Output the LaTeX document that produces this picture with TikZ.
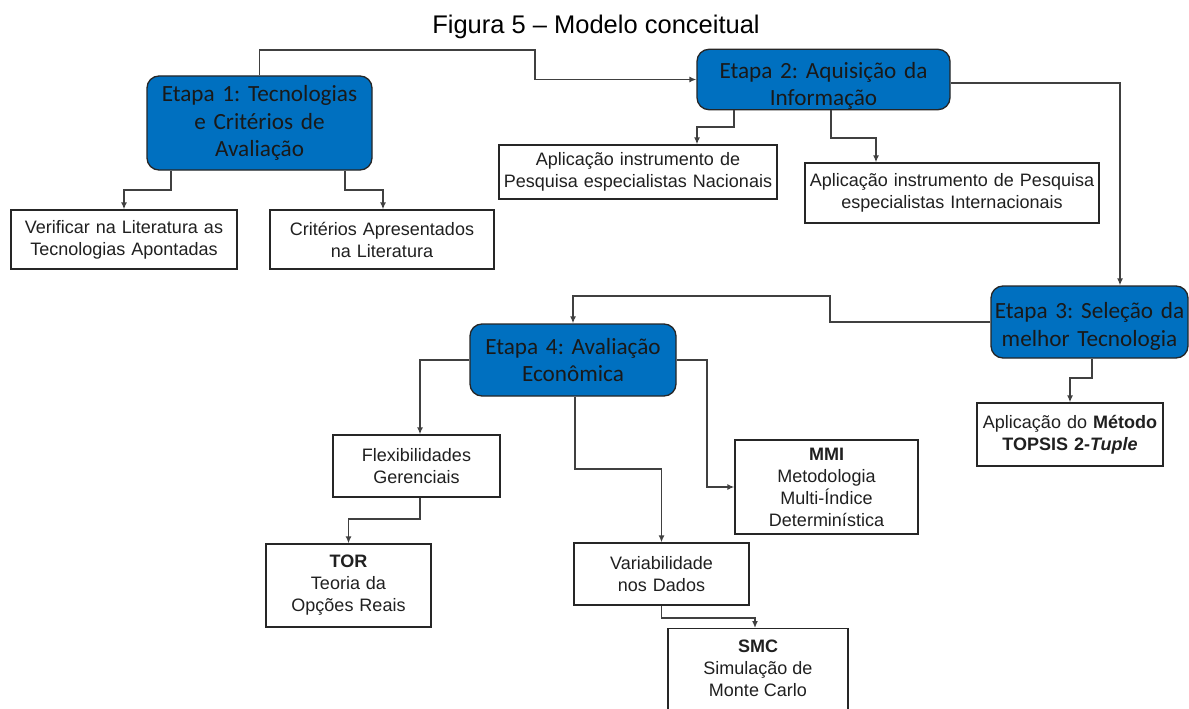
\documentclass[tikz,border=0pt]{standalone}
\usepackage{fontspec}
\setmainfont{Liberation Sans}
\newfontfamily\calfont{Carlito}
\usetikzlibrary{arrows.meta}
\frenchspacing
\definecolor{etblue}{HTML}{0070C0}
\definecolor{txt}{HTML}{202020}
\definecolor{lin}{HTML}{404040}
\tikzset{
  wbox/.style={draw=black!85, line width=1.3pt, fill=white, inner sep=0pt, align=center,
    text=txt, font=\fontsize{18}{22}\selectfont},
  ebox/.style={draw=black!85, line width=1.3pt, fill=etblue, rounded corners=12pt, inner sep=0pt,
    align=center, text=black!90, font=\calfont\fontsize{23.2}{27.5}\selectfont},
  conn/.style={draw=lin, line width=1.4pt, -{Latex[length=7pt,width=6pt]}},
}
\begin{document}
\begin{tikzpicture}[x=1pt,y=-1pt]
\useasboundingbox (0,0) rectangle (1189,709);
\clip (0,0) rectangle (1189,709);
\fill[white] (0,0) rectangle (1189,709);
\node[font=\fontsize{25.5}{30}\selectfont, text=black] (title) at (596,27) {Figura 5 – Modelo conceitual};

% Etapa boxes
\node[ebox, text width=225pt, minimum height=94pt] (e1) at (259.5,123) {Etapa 1: Tecnologias\\e Critérios de\\Avaliação};
\node[ebox, text width=253pt, minimum height=59pt] (e2) at (823.5,79.5) {\rule{0pt}{29pt}Etapa 2: Aquisição da\\Informação};
\node[ebox, text width=197pt, minimum height=72pt] (e3) at (1089.5,322) {\rule{0pt}{25pt}Etapa 3: Seleção da\\melhor Tecnologia};
\node[ebox, text width=206pt, minimum height=72pt] (e4) at (573,360) {Etapa 4: Avaliação\\Econômica};

% White boxes
\node[wbox, text width=278pt, minimum height=54pt] (n1) at (638,172) {Aplicação instrumento de\\Pesquisa especialistas Nacionais};
\node[wbox, text width=294pt, minimum height=60pt] (n2) at (952,193) {Aplicação instrumento de Pesquisa\\especialistas Internacionais};
\node[wbox, text width=226pt, minimum height=59pt] (v1) at (124,239.5) {Verificar na Literatura as\\Tecnologias Apontadas};
\node[wbox, text width=224pt, minimum height=59pt] (c1) at (382,239.5) {Critérios Apresentados\\na Literatura};
\node[wbox, text width=186pt, minimum height=63pt] (t1) at (1070,434.5) {Aplicação do \textbf{Método}\\\textbf{TOPSIS 2-\textit{Tuple}}};
\node[wbox, text width=167pt, minimum height=62pt] (f1) at (416.5,466) {Flexibilidades\\Gerenciais};
\node[wbox, text width=183pt, minimum height=94pt] (m1) at (826.5,487) {\textbf{MMI}\\Metodologia\\Multi-Índice\\Determinística};
\node[wbox, text width=165pt, minimum height=83pt] (tor) at (348.5,585.5) {\textbf{TOR}\\Teoria da\\Opções Reais};
\node[wbox, text width=175pt, minimum height=62pt] (va) at (661.5,574) {Variabilidade\\nos Dados};
\node[wbox, text width=180pt, minimum height=100pt, anchor=north] (smc) at (758,628) {};
\node[txt, font=\fontsize{18}{22}\selectfont, align=center, anchor=north] (smct) at (758,636) {\textbf{SMC}\\Simulação de\\Monte Carlo};

% Connectors
\draw[conn] (e1.north) |- (535,50) |- (e2.west);
\draw[conn] (e2.east |- 0,83) -| (e3.north -| 1120,0);
\draw[conn] (e2.south -| 734,0) |- (697,127) -- (n1.north -| 697,0);
\draw[conn] (e2.south -| 831,0) |- (876,138) -- (n2.north -| 876,0);
\draw[conn] (e1.south -| 171,0) |- (124,190) -- (v1.north);
\draw[conn] (e1.south -| 345,0) |- (383,190) -- (c1.north -| 383,0);
\draw[conn] (e3.west) -| (830,296) -| (e4.north);
\draw[conn] (e3.south -| 1092,0) |- (1070,378) -- (t1.north);
\draw[conn] (e4.west) -| (f1.north -| 420,0);
\draw[conn] (e4.south -| 575,0) |- (661.5,469) -- (va.north);
\draw[conn] (e4.east) -| (707,487) -- (m1.west);
\draw[conn] (f1.south -| 420,0) |- (348.5,519) -- (tor.north);
\draw[conn] (va.south) |- (755,618) -- (smc.north -| 755,0);
\end{tikzpicture}
\end{document}
